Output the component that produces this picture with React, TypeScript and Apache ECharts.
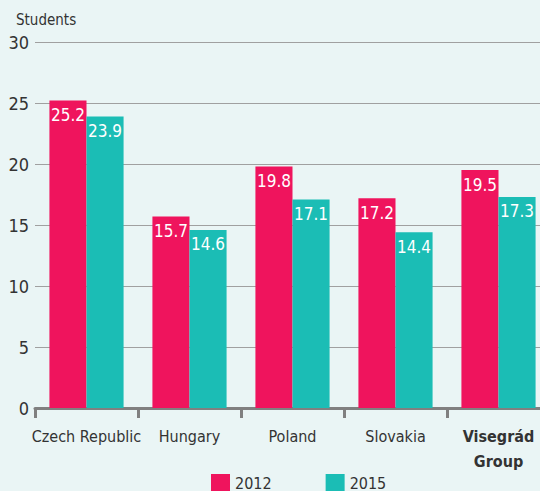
import React, { useEffect, useRef } from "react";
import * as echarts from "echarts";

const categories = ["Czech Republic", "Hungary", "Poland", "Slovakia", "Visegrád Group"];
const values2012 = [25.2, 15.7, 19.8, 17.2, 19.5];
const values2015 = [23.9, 14.6, 17.1, 14.4, 17.3];
const seriesNames = ["2012", "2015"];
const yTitle = "Students";

const FONT = "'DejaVu Sans Condensed', 'Liberation Sans Narrow', sans-serif";
const RED = "#ef145d";
const TEAL = "#1bbdb5";
const TEXT = "#333333";

export default function App() {
  const ref = useRef<HTMLDivElement>(null);
  useEffect(() => {
    if (!ref.current) return;
    const chart = echarts.init(ref.current, undefined, { renderer: "svg" });
    const label = {
      show: true,
      position: "insideTop" as const,
      distance: 6,
      color: "#ffffff",
      fontFamily: FONT,
      fontSize: 17,
      formatter: (p: any) => p.value.toFixed(1),
    };
    chart.setOption({
      animation: false,
      backgroundColor: "#eaf5f5",
      textStyle: { fontFamily: FONT },
      title: {
        text: yTitle,
        left: 11,
        top: 7,
        textStyle: { fontFamily: FONT, fontSize: 15, fontWeight: "normal", color: TEXT },
      },
      legend: {
        data: seriesNames,
        left: 206,
        top: 469,
        itemWidth: 19,
        itemHeight: 18,
        itemGap: 54,
        icon: "rect",
        textStyle: { fontFamily: FONT, fontSize: 16, lineHeight: 18, color: TEXT },
      },
      grid: { left: 35, top: 42, right: -10, bottom: 83, outerBoundsMode: "none", containLabel: false },
      xAxis: {
        type: "category",
        data: categories,
        axisLine: { show: true, lineStyle: { color: "#808080", width: 3 } },
        axisTick: { show: true, length: 10, lineStyle: { color: "#808080", width: 3 } },
        axisLabel: {
          interval: 0,
          margin: 16,
          color: TEXT,
          fontFamily: FONT,
          fontSize: 16,
          lineHeight: 25,
          formatter: (v: string) =>
            v === "Visegrád Group" ? "{b|Visegrád}\n{b|Group}" : v,
          rich: {
            b: { fontWeight: "bold", fontFamily: FONT, fontSize: 16, color: TEXT, lineHeight: 25 },
          },
        },
      },
      yAxis: {
        type: "value",
        min: 0,
        max: 30,
        interval: 5,
        axisLine: { show: false },
        axisTick: { show: false },
        axisLabel: { margin: 6, color: TEXT, fontFamily: FONT, fontSize: 18 },
        splitLine: { show: true, lineStyle: { color: "#a0a0a0", width: 1 } },
      },
      series: [
        {
          name: seriesNames[0],
          type: "bar",
          data: values2012,
          itemStyle: { color: RED },
          barGap: "0%",
          barCategoryGap: "28%",
          label,
        },
        {
          name: seriesNames[1],
          type: "bar",
          data: values2015,
          itemStyle: { color: TEAL },
          barGap: "0%",
          barCategoryGap: "28%",
          label,
        },
      ],
    });
    return () => chart.dispose();
  }, []);
  return (
    <div
      ref={ref}
      style={{ position: "fixed", left: 0, top: 0, width: 540, height: 491, background: "#eaf5f5" }}
    />
  );
}
